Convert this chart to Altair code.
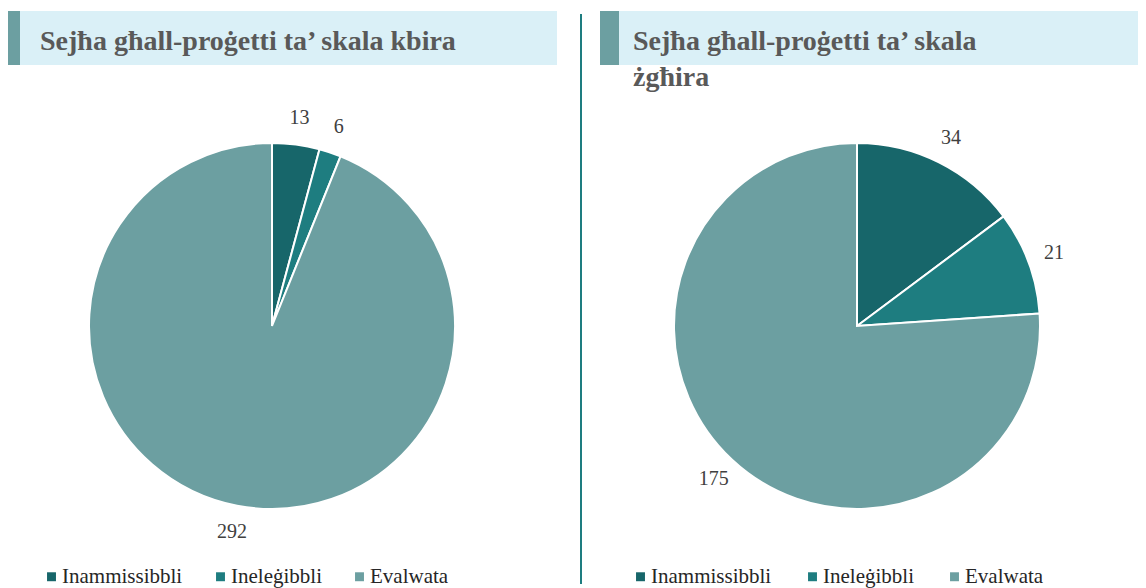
import altair as alt
import pandas as pd

categories = ["Inammissibbli", "Ineleġibbli", "Evalwata"]
large_values = [13, 6, 292]
small_values = [34, 21, 175]
colors = ["#17666a", "#1e7d80", "#6c9fa1"]
title_large = ["Sejħa għall-proġetti ta’ skala kbira"]
title_small = ["Sejħa għall-proġetti ta’ skala", "żgħira"]

FONT = "Liberation Serif"


def panel(values, title, pw, cx, cy, legend_x, col_pad, banner_x0, accent_x1, banner_x1, text_x, divider=False):
    df = pd.DataFrame({"cat": categories, "value": values, "ord": list(range(len(categories)))})
    base = alt.Chart(df).encode(
        theta=alt.Theta("value:Q", stack=True),
        order=alt.Order("ord:Q", sort="ascending"),
        color=alt.Color(
            "cat:N",
            scale=alt.Scale(domain=categories, range=colors),
            legend=alt.Legend(
                title=None,
                orient="none",
                legendX=legend_x,
                legendY=558,
                direction="horizontal",
                symbolType="square",
                symbolSize=80,
                symbolStrokeWidth=0,
                symbolOffset=3,
                labelFont=FONT,
                labelFontSize=21,
                labelColor="#262626",
                labelOffset=0,
                columnPadding=col_pad,
                labelLimit=300,
            ),
        ),
    )
    pie = base.mark_arc(outerRadius=183, stroke="white", strokeWidth=2, x=cx, y=cy)
    labels = base.mark_text(radius=210, font=FONT, fontSize=20, color="#404040", x=cx, y=cy).encode(
        text="value:Q", color=alt.value("#404040")
    )
    one = alt.Chart(pd.DataFrame({"a": [0]}))
    banner = one.mark_rect(color="#daf0f7").encode(
        x=alt.value(banner_x0), x2=alt.value(banner_x1), y=alt.value(3), y2=alt.value(57)
    )
    accent = one.mark_rect(color="#6c9fa1").encode(
        x=alt.value(banner_x0), x2=alt.value(accent_x1), y=alt.value(3), y2=alt.value(57)
    )
    ttl = one.mark_text(
        font=FONT, fontSize=28, fontWeight="bold", color="#595959", align="left",
        baseline="middle", lineHeight=36,
    ).encode(x=alt.value(text_x), y=alt.value(34), text=alt.value(title if len(title) > 1 else title[0]))
    layers = [banner, accent, ttl]
    if divider:
        div = one.mark_rule(color="#1e7d80", strokeWidth=2).encode(
            x=alt.value(1), y=alt.value(6), y2=alt.value(576)
        )
        layers.append(div)
    layers += [pie, labels]
    return alt.layer(*layers).properties(width=pw, height=580)


left = panel(large_values, title_large, 572, 264, 318, 30, 24, 0, 12, 549, 32)
right = panel(small_values, title_small, 558, 277, 318, 47, 27, 20, 39, 558, 53, divider=True)

chart = (
    alt.hconcat(left, right, spacing=0)
    .resolve_scale(color="independent", theta="independent")
    .properties(padding=0)
    .configure_view(strokeWidth=0)
    .configure_legend(labelFont=FONT)
)

chart.save("out.html", embed_options={"renderer": "svg", "actions": False})
